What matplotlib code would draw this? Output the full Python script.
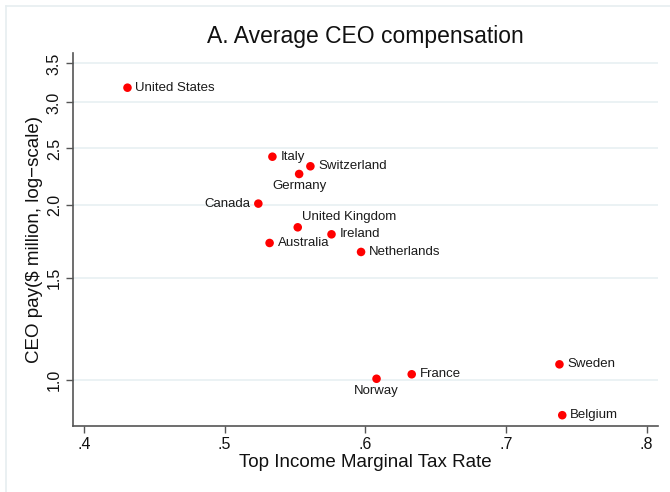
import matplotlib
matplotlib.use("Agg")
import matplotlib.pyplot as plt
from matplotlib.ticker import FixedLocator, NullLocator, FixedFormatter
from matplotlib.lines import Line2D

plt.rcParams["font.family"] = ["Liberation Sans", "DejaVu Sans"]

# Data
countries = ["United States", "Italy", "Switzerland", "Germany", "Canada",
             "United Kingdom", "Ireland", "Australia", "Netherlands",
             "Norway", "France", "Sweden", "Belgium"]
tax_rate = [0.431, 0.534, 0.561, 0.553, 0.524, 0.552, 0.576, 0.532, 0.597,
            0.608, 0.633, 0.738, 0.740]
ceo_pay = [3.18, 2.42, 2.33, 2.26, 2.01, 1.83, 1.78, 1.72, 1.66,
           1.005, 1.023, 1.064, 0.870]
# where each label sits relative to its marker
label_pos = ["right", "right", "right", "below", "left", "above", "right",
             "right", "right", "below", "right", "right", "right"]

y_ticks = [1.0, 1.5, 2.0, 2.5, 3.0, 3.5]
x_ticks = [0.4, 0.5, 0.6, 0.7, 0.8]
x_ticklabels = [".4", ".5", ".6", ".7", ".8"]

fig = plt.figure(figsize=(6.7, 4.92), dpi=100)
ax = fig.add_axes([0.109, 0.135, 0.873, 0.757])

# faint outer frame of the graph region
frame_col = "#e6eef0"
fig.add_artist(Line2D([0.0085, 0.0085], [0.0, 0.988], color=frame_col, lw=1.2,
                      transform=fig.transFigure))
fig.add_artist(Line2D([0.0085, 1.0], [0.988, 0.988], color=frame_col, lw=1.2,
                      transform=fig.transFigure))

ax.set_yscale("log")
ax.set_xlim(0.3923, 0.808)
ax.set_ylim(0.835, 3.646)

for y in y_ticks:
    ax.axhline(y, color="#e8f0f2", lw=1.2, zorder=0)

ax.scatter(tax_rate, ceo_pay, s=38, color="#ff0000", edgecolors="none", zorder=3)

offsets = {
    "right": ((8, 0), "left", "center"),
    "left": ((-8, 0), "right", "center"),
    "below": ((0, -12), "center", "center"),
    "above": ((4, 10), "left", "center"),
}
for name, x, y, pos in zip(countries, tax_rate, ceo_pay, label_pos):
    off, ha, va = offsets[pos]
    ax.annotate(name, (x, y), xytext=off, textcoords="offset pixels",
                ha=ha, va=va, fontsize=9.5, color="#1a1a1a")

ax.yaxis.set_major_locator(FixedLocator(y_ticks))
ax.yaxis.set_major_formatter(FixedFormatter(["%.1f" % v for v in y_ticks]))
ax.yaxis.set_minor_locator(NullLocator())
ax.set_xticks(x_ticks)
ax.set_xticklabels(x_ticklabels)

for lab in ax.get_yticklabels():
    lab.set_rotation(90)
    lab.set_va("center")

ax.tick_params(axis="both", direction="out", length=5, width=1, color="#555555",
               labelsize=11.5, labelcolor="#111111", pad=3)

for side in ["top", "right"]:
    ax.spines[side].set_visible(False)
for side in ["left", "bottom"]:
    ax.spines[side].set_color("#555555")
    ax.spines[side].set_linewidth(1.2)

ax.set_xlabel("Top Income Marginal Tax Rate", fontsize=13.5, color="#111111", labelpad=2)
ax.set_ylabel("CEO pay($ million, log\u2212scale)", fontsize=13.5, color="#111111", labelpad=3)
ax.set_title("A. Average CEO compensation", fontsize=16.5, color="#111111", pad=7)

fig.savefig("out.png", dpi=100)
